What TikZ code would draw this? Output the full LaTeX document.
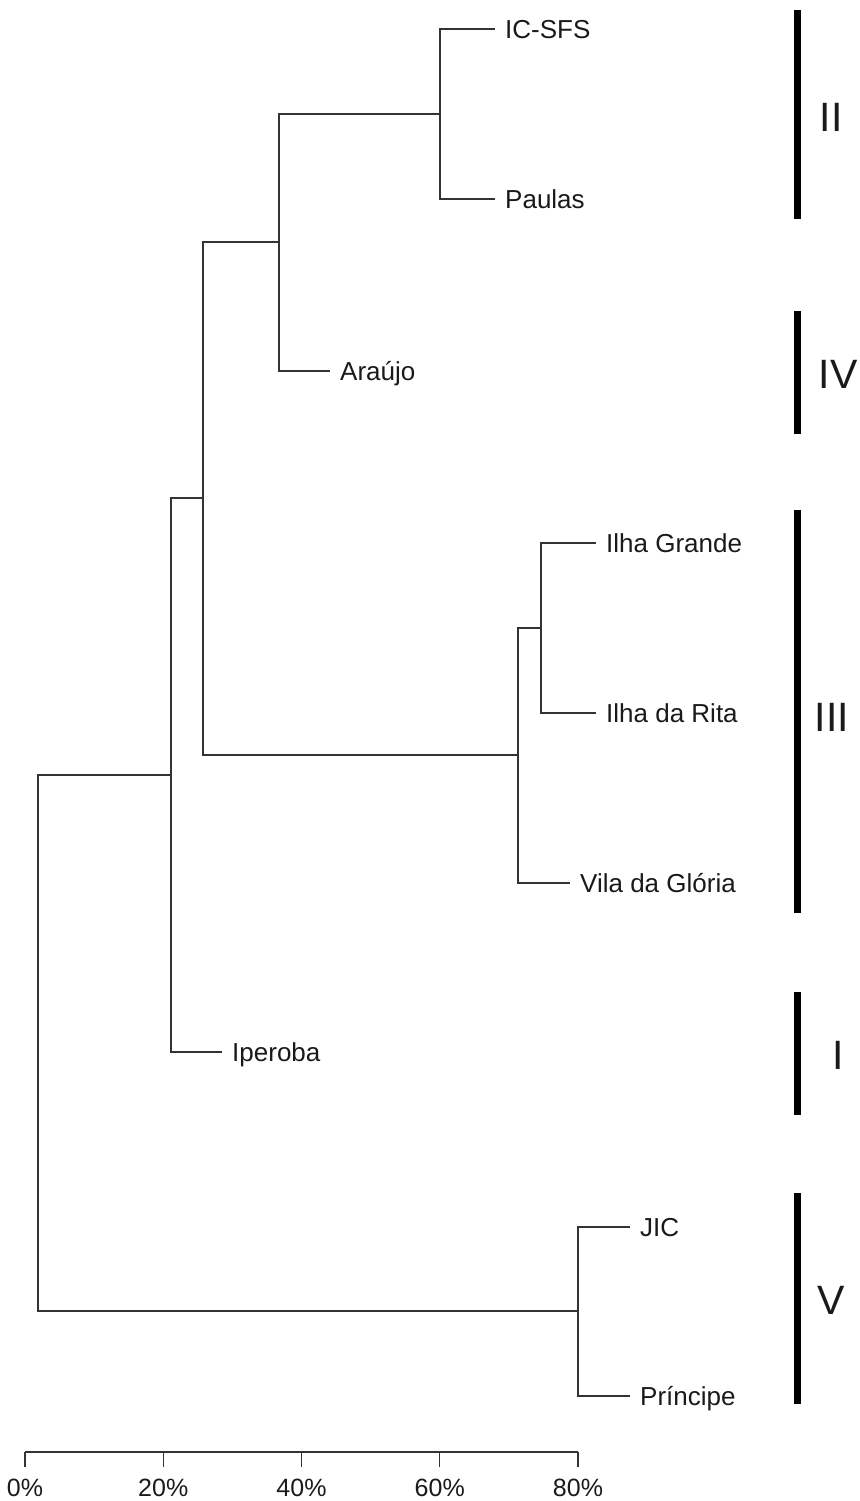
\documentclass[tikz,border=0pt]{standalone}
\usepackage{fontspec}
\setmainfont{Liberation Sans}
\definecolor{linegray}{HTML}{333333}
\definecolor{txt}{HTML}{1A1A1A}
\begin{document}
\begin{tikzpicture}[x=1pt,y=-1pt,
  branch/.style={draw=linegray,line width=1.3pt},
  leaf/.style={anchor=west,inner xsep=10pt,inner ysep=0pt,text height=18.7pt,text depth=0pt,
    font=\fontsize{26}{31}\selectfont,text=txt},
  groupbar/.style={draw=black,line width=7pt},
  grouplbl/.style={font=\fontsize{41}{48}\selectfont,text=txt,inner sep=0pt},
  axislbl/.style={font=\fontsize{25}{30}\selectfont,text=txt,inner sep=0pt}]
\useasboundingbox (0,0) rectangle (859,1501);
\fill[white] (0,0) rectangle (859,1501);
% leaves
\node[leaf] (icsfs) at (495,29) {IC-SFS};
\node[leaf] (paulas) at (495,199) {Paulas};
\node[leaf] (araujo) at (330,371) {Araújo};
\node[leaf] (ilhagrande) at (596,543) {Ilha Grande};
\node[leaf] (ilharita) at (596,713) {Ilha da Rita};
\node[leaf] (vila) at (570,883) {Vila da Glória};
\node[leaf] (iperoba) at (222,1052) {Iperoba};
\node[leaf] (jic) at (630,1227) {JIC};
\node[leaf] (principe) at (630,1396) {Príncipe};
% internal nodes
\coordinate (n1) at (440,114);
\coordinate (n2) at (279,242);
\coordinate (n3) at (541,628);
\coordinate (n4) at (518,755);
\coordinate (n5) at (203,498);
\coordinate (n6) at (171,775);
\coordinate (n7) at (578,1311);
\coordinate (n8) at (38,1043);
\draw[branch] (n1) |- (icsfs.west);
\draw[branch] (n1) |- (paulas.west);
\draw[branch] (n2) |- (n1);
\draw[branch] (n2) |- (araujo.west);
\draw[branch] (n3) |- (ilhagrande.west);
\draw[branch] (n3) |- (ilharita.west);
\draw[branch] (n4) |- (n3);
\draw[branch] (n4) |- (vila.west);
\draw[branch] (n5) |- (n2);
\draw[branch] (n5) |- (n4);
\draw[branch] (n6) |- (n5);
\draw[branch] (n6) |- (iperoba.west);
\draw[branch] (n7) |- (jic.west);
\draw[branch] (n7) |- (principe.west);
\draw[branch] (n8) |- (n6);
\draw[branch] (n8) |- (n7);
% group bars
\draw[groupbar] (797,10) -- (797,219);
\node[grouplbl] (gII) at (831,117) {II};
\draw[groupbar] (797,311) -- (797,434);
\node[grouplbl] (gIV) at (838,374) {IV};
\draw[groupbar] (797,510) -- (797,913);
\node[grouplbl] (gIII) at (832,717) {III};
\draw[groupbar] (797,992) -- (797,1115);
\node[grouplbl] (gI) at (838,1055) {I};
\draw[groupbar] (797,1193) -- (797,1404);
\node[grouplbl] (gV) at (831,1300) {V};
% axis
\coordinate (a0) at (25,1452);
\coordinate (a80) at (578,1452);
\draw[branch] (a0) -- (a80);
\foreach \k/\lab in {0/0\%,1/20\%,2/40\%,3/60\%,4/80\%}{
  \draw[branch] (25+138.25*\k,1452) -- (25+138.25*\k,1467);
  \node[axislbl] (t\k) at (25+138.25*\k,1488) {\lab};
}
\end{tikzpicture}
\end{document}
